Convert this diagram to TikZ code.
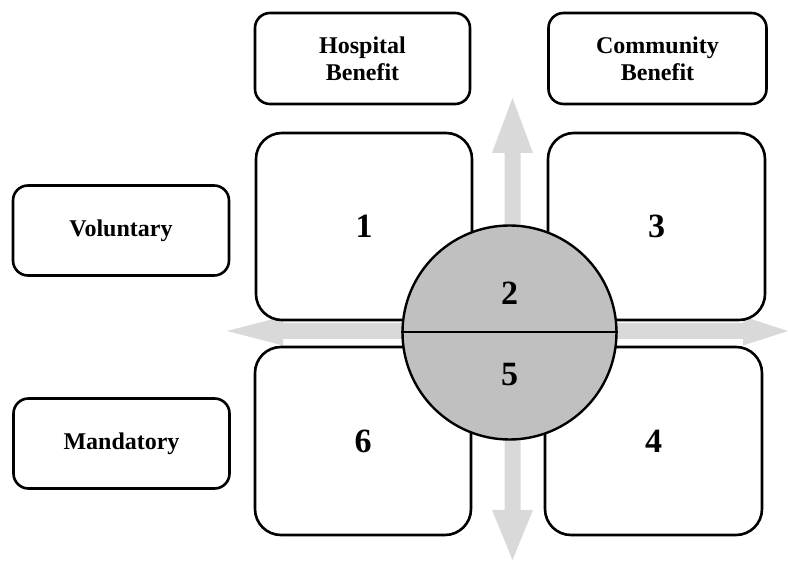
\documentclass[tikz,border=0pt]{standalone}
\usepackage{fontspec}
\setmainfont{Liberation Serif}
\definecolor{arrowgray}{HTML}{D9D9D9}
\definecolor{circgray}{HTML}{C0C0C0}
\tikzset{
  labelbox/.style={draw=black, line width=2.6pt, fill=white, rounded corners=15pt, inner sep=0pt, align=center,
    font=\fontsize{24}{27}\selectfont\bfseries},
  quadbox/.style={draw=black, line width=2.6pt, fill=white, rounded corners=26pt, inner sep=0pt,
    font=\fontsize{34}{38}\selectfont\bfseries},
  axisarrow/.style={fill=arrowgray, draw=none},
  numtext/.style={font=\fontsize{34}{38}\selectfont\bfseries, inner sep=0pt}
}
\begin{document}
\begin{tikzpicture}[x=1pt, y=-1pt]
\useasboundingbox (0,0) rectangle (788,561);
% gray axis arrows
\fill[axisarrow] (227,331) -- (283,316.5) -- (283,323) -- (743,323) -- (743,316.5) -- (788,331)
  -- (743,345.5) -- (743,339) -- (283,339) -- (283,345.5) -- cycle;
\fill[axisarrow] (512.5,98) -- (533,153) -- (520.5,153) -- (520.5,510) -- (533,510) -- (512.5,560)
  -- (492,510) -- (504.5,510) -- (504.5,153) -- (492,153) -- cycle;
% header boxes
\node[labelbox, minimum width=215pt, minimum height=91pt] (hosp) at (362.5,58.5) {Hospital\\Benefit};
\node[labelbox, minimum width=218pt, minimum height=91pt] (comm) at (657.5,58.5) {Community\\Benefit};
\node[labelbox, minimum width=216pt, minimum height=90pt] (vol) at (121,230.5) {Voluntary};
\node[labelbox, minimum width=216pt, minimum height=90pt] (mand) at (121.5,443.5) {Mandatory};
% quadrant boxes
\node[quadbox, minimum width=216pt, minimum height=187pt] (q1) at (364,226.5) {1};
\node[quadbox, minimum width=217pt, minimum height=187pt] (q3) at (656.5,226.5) {3};
\node[quadbox, minimum width=216pt, minimum height=188pt] (q6) at (363,441) {6};
\node[quadbox, minimum width=217pt, minimum height=188pt] (q4) at (653.5,441) {4};
% central circle
\node[circle, draw=black, line width=2.4pt, fill=circgray, minimum size=214pt, inner sep=0pt] (c) at (509.5,332.5) {};
\draw[line width=2pt] (c.west) -- (c.east);
\node[numtext] (n2) at (509.5,293) {2};
\node[numtext] (n5) at (509.5,375) {5};
\end{tikzpicture}
\end{document}
